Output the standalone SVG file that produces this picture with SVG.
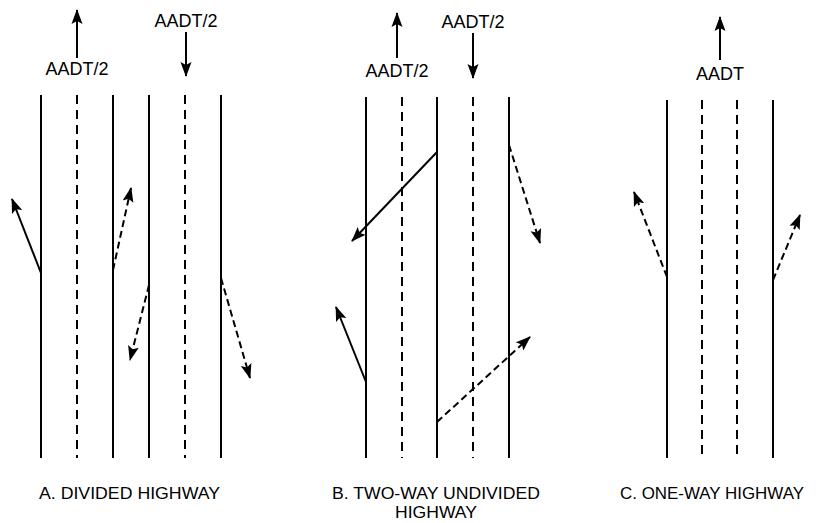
<svg xmlns="http://www.w3.org/2000/svg" width="816" height="523" viewBox="0 0 816 523">
<style>
.s{stroke:#000;stroke-width:2;fill:none}
.d{stroke:#000;stroke-width:2;fill:none;stroke-dasharray:9 6}
.a{stroke:#000;stroke-width:2;fill:none;marker-end:url(#ah)}
.ad{stroke:#000;stroke-width:2;fill:none;stroke-dasharray:7 4;marker-end:url(#ah)}
text{font-family:"Liberation Sans",Arial,sans-serif;font-size:18px;fill:#000;text-anchor:middle}
.lb{text-anchor:start;font-size:16.5px}
.lc{font-size:16.5px}
</style>
<defs>
<marker id="ah" markerUnits="userSpaceOnUse" markerWidth="15" markerHeight="12" refX="14" refY="6" orient="auto">
<path d="M0,0.5 L15,6 L0,11.5 L3,6 Z" fill="#000"/>
</marker>
</defs>
<rect width="816" height="523" fill="#fff"/>
<g id="panelA">
<line class="s" x1="41" y1="95" x2="41" y2="458"/>
<line class="d" x1="77" y1="95" x2="77" y2="458"/>
<line class="s" x1="113" y1="95" x2="113" y2="458"/>
<line class="s" x1="149" y1="95" x2="149" y2="458"/>
<line class="d" x1="185" y1="95" x2="185" y2="458"/>
<line class="s" x1="221" y1="95" x2="221" y2="458"/>
<text x="77" y="75">AADT/2</text>
<text x="186" y="27">AADT/2</text>
<text class="lb" x="39" y="499" textLength="181" lengthAdjust="spacingAndGlyphs">A. DIVIDED HIGHWAY</text>
</g>
<g id="panelB">
<line class="s" x1="366" y1="97" x2="366" y2="458"/>
<line class="d" x1="402" y1="97" x2="402" y2="458"/>
<line class="s" x1="437" y1="97" x2="437" y2="458"/>
<line class="d" x1="473" y1="97" x2="473" y2="458"/>
<line class="s" x1="509" y1="97" x2="509" y2="458"/>
<text x="397" y="77">AADT/2</text>
<text x="473" y="28">AADT/2</text>
<text class="lb" x="332" y="499" textLength="208" lengthAdjust="spacingAndGlyphs">B. TWO-WAY UNDIVIDED</text>
<text class="lc" x="436" y="518" textLength="82" lengthAdjust="spacingAndGlyphs">HIGHWAY</text>
</g>
<g id="panelC">
<line class="s" x1="667" y1="100" x2="667" y2="458"/>
<line class="d" x1="702" y1="100" x2="702" y2="458"/>
<line class="d" x1="737" y1="100" x2="737" y2="458"/>
<line class="s" x1="773" y1="100" x2="773" y2="458"/>
<text x="720" y="80">AADT</text>
<text class="lb" x="620" y="499" textLength="184" lengthAdjust="spacingAndGlyphs">C. ONE-WAY HIGHWAY</text>
</g>
<g id="connectors">
<line class="a" x1="77" y1="58" x2="77" y2="10"/>
<line class="a" x1="186" y1="32" x2="186" y2="76"/>
<line class="a" x1="41" y1="273" x2="12" y2="199"/>
<line class="ad" x1="113" y1="270" x2="131" y2="188"/>
<line class="ad" x1="149" y1="285" x2="130" y2="360"/>
<line class="ad" x1="221" y1="278" x2="250" y2="378"/>
<line class="a" x1="397" y1="58" x2="397" y2="13"/>
<line class="a" x1="473" y1="33" x2="473" y2="78"/>
<line class="a" x1="437" y1="152" x2="352" y2="241"/>
<line class="ad" x1="509" y1="145" x2="540" y2="243"/>
<line class="a" x1="366" y1="382" x2="336" y2="307"/>
<line class="ad" x1="437" y1="422" x2="530" y2="337"/>
<line class="a" x1="720" y1="60" x2="720" y2="17"/>
<line class="ad" x1="667" y1="277" x2="634" y2="192"/>
<line class="ad" x1="773" y1="280" x2="800" y2="215"/>
</g>
</svg>
